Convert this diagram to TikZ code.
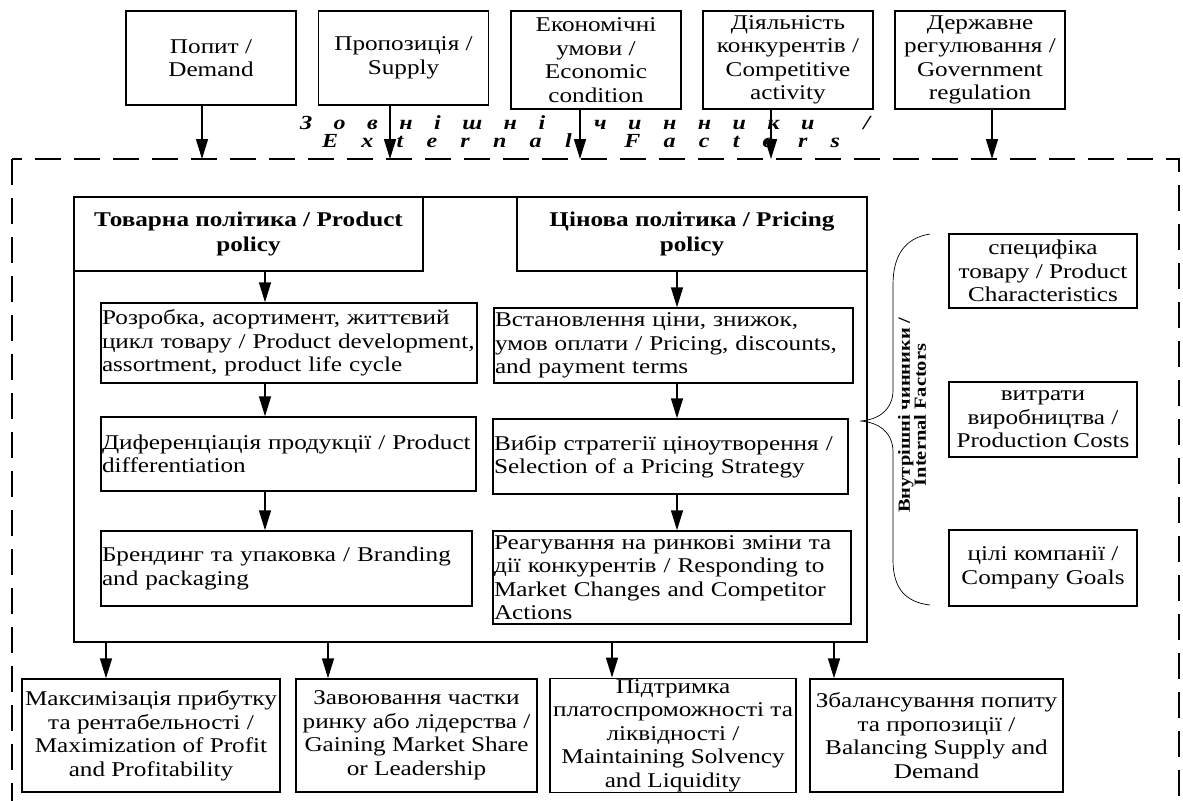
\documentclass[tikz,border=0pt]{standalone}
\usepackage{fontspec}
\setmainfont{Liberation Serif}[FakeStretch=1.2]
\usetikzlibrary{arrows.meta}

\tikzset{
  box/.style={draw, line width=0.75pt, align=center, inner sep=0.5pt,
    font=\fontsize{10.5}{11.75}\selectfont},
  leftbox/.style={box, align=left},
  headbox/.style={box, font=\fontsize{10.5}{12.5}\selectfont\bfseries},
  arr/.style={-{Triangle[length=10pt,width=6pt]}, line width=0.75pt},
  outerframe/.style={dash pattern=on 13pt off 6.5pt, line width=0.8pt},
  spread/.style={inner sep=0pt, font=\fontsize{10}{10}\selectfont\bfseries\itshape},
}

\begin{document}
\begin{tikzpicture}[x=0.5pt,y=-0.5pt]
  \useasboundingbox (0,0) rectangle (1183,800);

  % External factors
  \node[box,minimum width=85pt,minimum height=47pt] (dem) at (211,58) {Попит /\\Demand};
  \node[box,minimum width=85pt,minimum height=47pt] (sup) at (403.5,58) {Пропозиція /\\Supply};
  \node[box,minimum width=85pt,minimum height=49pt] (eco) at (596,60) {Економічні\\умови /\\Economic\\condition};
  \node[box,minimum width=85pt,minimum height=49pt] (comp) at (788,60) {Діяльність\\конкурентів /\\Competitive\\activity};
  \node[box,minimum width=85pt,minimum height=49pt] (gov) at (980,60) {Державне\\регулювання /\\Government\\regulation};

  \node[spread] (ext1) at (585,123) {\makebox[285pt][s]{З\hfill о\hfill в\hfill н\hfill і\hfill ш\hfill н\hfill і\hfill\mbox{\ }\hfill ч\hfill и\hfill н\hfill н\hfill и\hfill к\hfill и\hfill\mbox{\ }\hfill /}};
  \node[spread] (ext2) at (581,141) {\makebox[259pt][s]{E\hfill x\hfill t\hfill e\hfill r\hfill n\hfill a\hfill l\hfill\mbox{\ }\hfill F\hfill a\hfill c\hfill t\hfill o\hfill r\hfill s}};

  \draw[outerframe] (12,159) rectangle (1179,830);

  \coordinate (e1) at (202,159);
  \coordinate (e2) at (390,159);
  \coordinate (e3) at (580,159);
  \coordinate (e4) at (771,159);
  \coordinate (e5) at (992,159);
  \draw[arr] (dem.south -| e1) -- (e1);
  \draw[arr] (sup.south -| e2) -- (e2);
  \draw[arr] (eco.south -| e3) -- (e3);
  \draw[arr] (comp.south -| e4) -- (e4);
  \draw[arr] (gov.south -| e5) -- (e5);

  % Marketing policies
  \node[draw,line width=0.9pt,minimum width=396.5pt,minimum height=222.5pt] (core) at (470.5,419.5) {};
  \node[headbox,minimum width=174.5pt,minimum height=37pt] (hprod) at (248.5,234) {Товарна політика / Product\\policy};
  \node[headbox,minimum width=175pt,minimum height=37pt] (hprice) at (692,234) {Цінова політика / Pricing\\policy};

  \node[leftbox,text width=187pt,minimum height=40pt] (p1) at (289,343) {Розробка, асортимент, життєвий\\цикл товару / Product development,\\assortment, product life cycle};
  \node[leftbox,text width=186.5pt,minimum height=37pt] (p2) at (288.5,454) {Диференціація продукції / Product\\differentiation};
  \node[leftbox,text width=184.5pt,minimum height=37.5pt] (p3) at (286.5,568.5) {Брендинг та упаковка / Branding\\and packaging};

  \node[leftbox,text width=178.5pt,minimum height=37.5pt] (c1) at (673.5,345.5) {Встановлення ціни, знижок,\\умов оплати / Pricing, discounts,\\and payment terms};
  \node[leftbox,text width=176.5pt,minimum height=37.5pt] (c2) at (670.5,456.5) {Вибір стратегії ціноутворення /\\Selection of a Pricing Strategy};
  \node[leftbox,text width=178pt,minimum height=46.5pt] (c3) at (672,577.5) {Реагування на ринкові зміни та\\дії конкурентів / Responding to\\Market Changes and Competitor\\Actions};

  \coordinate (colp) at (265,0);
  \coordinate (colc) at (677,0);
  \draw[arr] (hprod.south -| colp) -- (p1.north -| colp);
  \draw[arr] (p1.south -| colp) -- (p2.north -| colp);
  \draw[arr] (p2.south -| colp) -- (p3.north -| colp);
  \draw[arr] (hprice.south -| colc) -- (c1.north -| colc);
  \draw[arr] (c1.south -| colc) -- (c2.north -| colc);
  \draw[arr] (c2.south -| colc) -- (c3.north -| colc);

  % Internal factors
  \draw[line width=0.35pt] (930,234) .. controls (905,238) and (893,255) .. (893,285)
    -- (893,390) .. controls (893,410) and (878,420) .. (860,421)
    .. controls (878,422) and (893,432) .. (893,452)
    -- (893,560) .. controls (893,588) and (905,602) .. (930,605);
  \node[rotate=90,align=center,inner sep=0pt,font=\fontsize{8.5}{8}\selectfont\bfseries] (intl) at (912,415) {Внутрішні чинники /\\Internal Factors};

  \node[box,minimum width=94pt,minimum height=37pt] (i1) at (1043,271) {специфіка\\товару / Product\\Characteristics};
  \node[box,minimum width=94pt,minimum height=37.5pt] (i2) at (1043,419.5) {витрати\\виробництва /\\Production Costs};
  \node[box,minimum width=94pt,minimum height=38pt] (i3) at (1043,568) {цілі компанії /\\Company Goals};

  % Goals
  \node[box,minimum width=129pt,minimum height=56.5pt] (g1) at (151,735.5) {Максимізація прибутку\\та рентабельності /\\Maximization of Profit\\and Profitability};
  \node[box,minimum width=120.5pt,minimum height=56.5pt] (g2) at (416.5,735.5) {Завоювання частки\\ринку або лідерства /\\Gaining Market Share\\or Leadership};
  \node[box,minimum width=123pt,minimum height=56.5pt] (g3) at (673,735.5) {Підтримка\\платоспроможності та\\ліквідності /\\Maintaining Solvency\\and Liquidity};
  \node[box,minimum width=126.5pt,minimum height=56.5pt] (g4) at (936.5,735.5) {Збалансування попиту\\та пропозиції /\\Balancing Supply and\\Demand};

  \coordinate (b1) at (106,0);
  \coordinate (b2) at (328,0);
  \coordinate (b3) at (612,0);
  \coordinate (b4) at (834,0);
  \draw[arr] (core.south -| b1) -- (g1.north -| b1);
  \draw[arr] (core.south -| b2) -- (g2.north -| b2);
  \draw[arr] (core.south -| b3) -- (g3.north -| b3);
  \draw[arr] (core.south -| b4) -- (g4.north -| b4);
\end{tikzpicture}
\end{document}
